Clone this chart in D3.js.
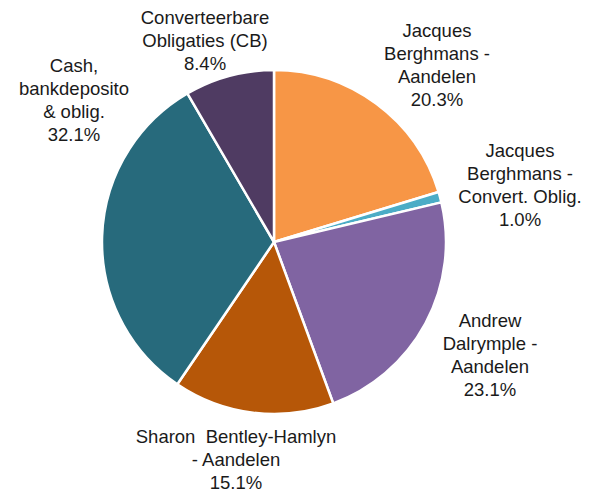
<!DOCTYPE html>
<html>
<head>
<meta charset="utf-8">
<script src="https://cdn.jsdelivr.net/npm/d3@7"></script>
<style>
  body { margin: 0; background: #fff; }
  text { font-family: "Liberation Sans", Arial, sans-serif; font-size: 18.5px; fill: #1a1a1a; }
</style>
</head>
<body>
<svg width="592" height="492"></svg>
<script>
// Data (clockwise from 12 o'clock)
const categories = [
  "Jacques Berghmans - Aandelen",
  "Jacques Berghmans - Convert. Oblig.",
  "Andrew Dalrymple - Aandelen",
  "Sharon Bentley-Hamlyn - Aandelen",
  "Cash, bankdeposito & oblig.",
  "Converteerbare Obligaties (CB)"
];
const values = [20.3, 1.0, 23.1, 15.1, 32.1, 8.4];
const labelLines = [
  ["Jacques", "Berghmans -", "Aandelen"],
  ["Jacques", "Berghmans -", "Convert. Oblig."],
  ["Andrew", "Dalrymple -", "Aandelen"],
  ["Sharon  Bentley-Hamlyn", "- Aandelen"],
  ["Cash,", "bankdeposito", "& oblig."],
  ["Converteerbare", "Obligaties (CB)"]
];
const colors = ["#F79646", "#4BACC6", "#8064A2", "#B65708", "#276A7C", "#4F3B62"];

// Layout
const svg = d3.select("svg");
const cx = 274, cy = 242, radius = 172;
const lineH = 23;
// label centre offsets from pie centre (Excel-like manual placement)
const labelPos = [[163, -177], [246, -57], [216, 113], [-38, 218], [-200, -142], [-69, -201]];

const g = svg.append("g").attr("transform", `translate(${cx},${cy})`);

const pie = d3.pie().sort(null).value(d => d)(values);
const arc = d3.arc().innerRadius(0).outerRadius(radius);

g.selectAll("path.slice")
  .data(pie)
  .enter().append("path")
    .attr("class", "slice")
    .attr("d", arc)
    .attr("fill", (d, i) => colors[i])
    .attr("stroke", "#fff")
    .attr("stroke-width", 2.5)
    .attr("stroke-linejoin", "round");

// Labels: name lines + percentage
const labels = g.selectAll("text.lbl")
  .data(pie)
  .enter().append("text")
    .attr("class", "lbl")
    .attr("text-anchor", "middle")
    .attr("transform", (d, i) => `translate(${labelPos[i][0]},${labelPos[i][1]})`);

labels.each(function(d, i) {
  const lines = labelLines[i].concat([d3.format(".1f")(values[i]) + "%"]);
  const t = d3.select(this);
  const top = -(lines.length - 1) * lineH / 2;
  lines.forEach((ln, k) => {
    t.append("tspan")
      .attr("x", 0)
      .attr("y", top + k * lineH)
      .attr("dy", "0.35em")
      .attr("xml:space", "preserve")
      .text(ln);
  });
});
</script>
</body>
</html>
